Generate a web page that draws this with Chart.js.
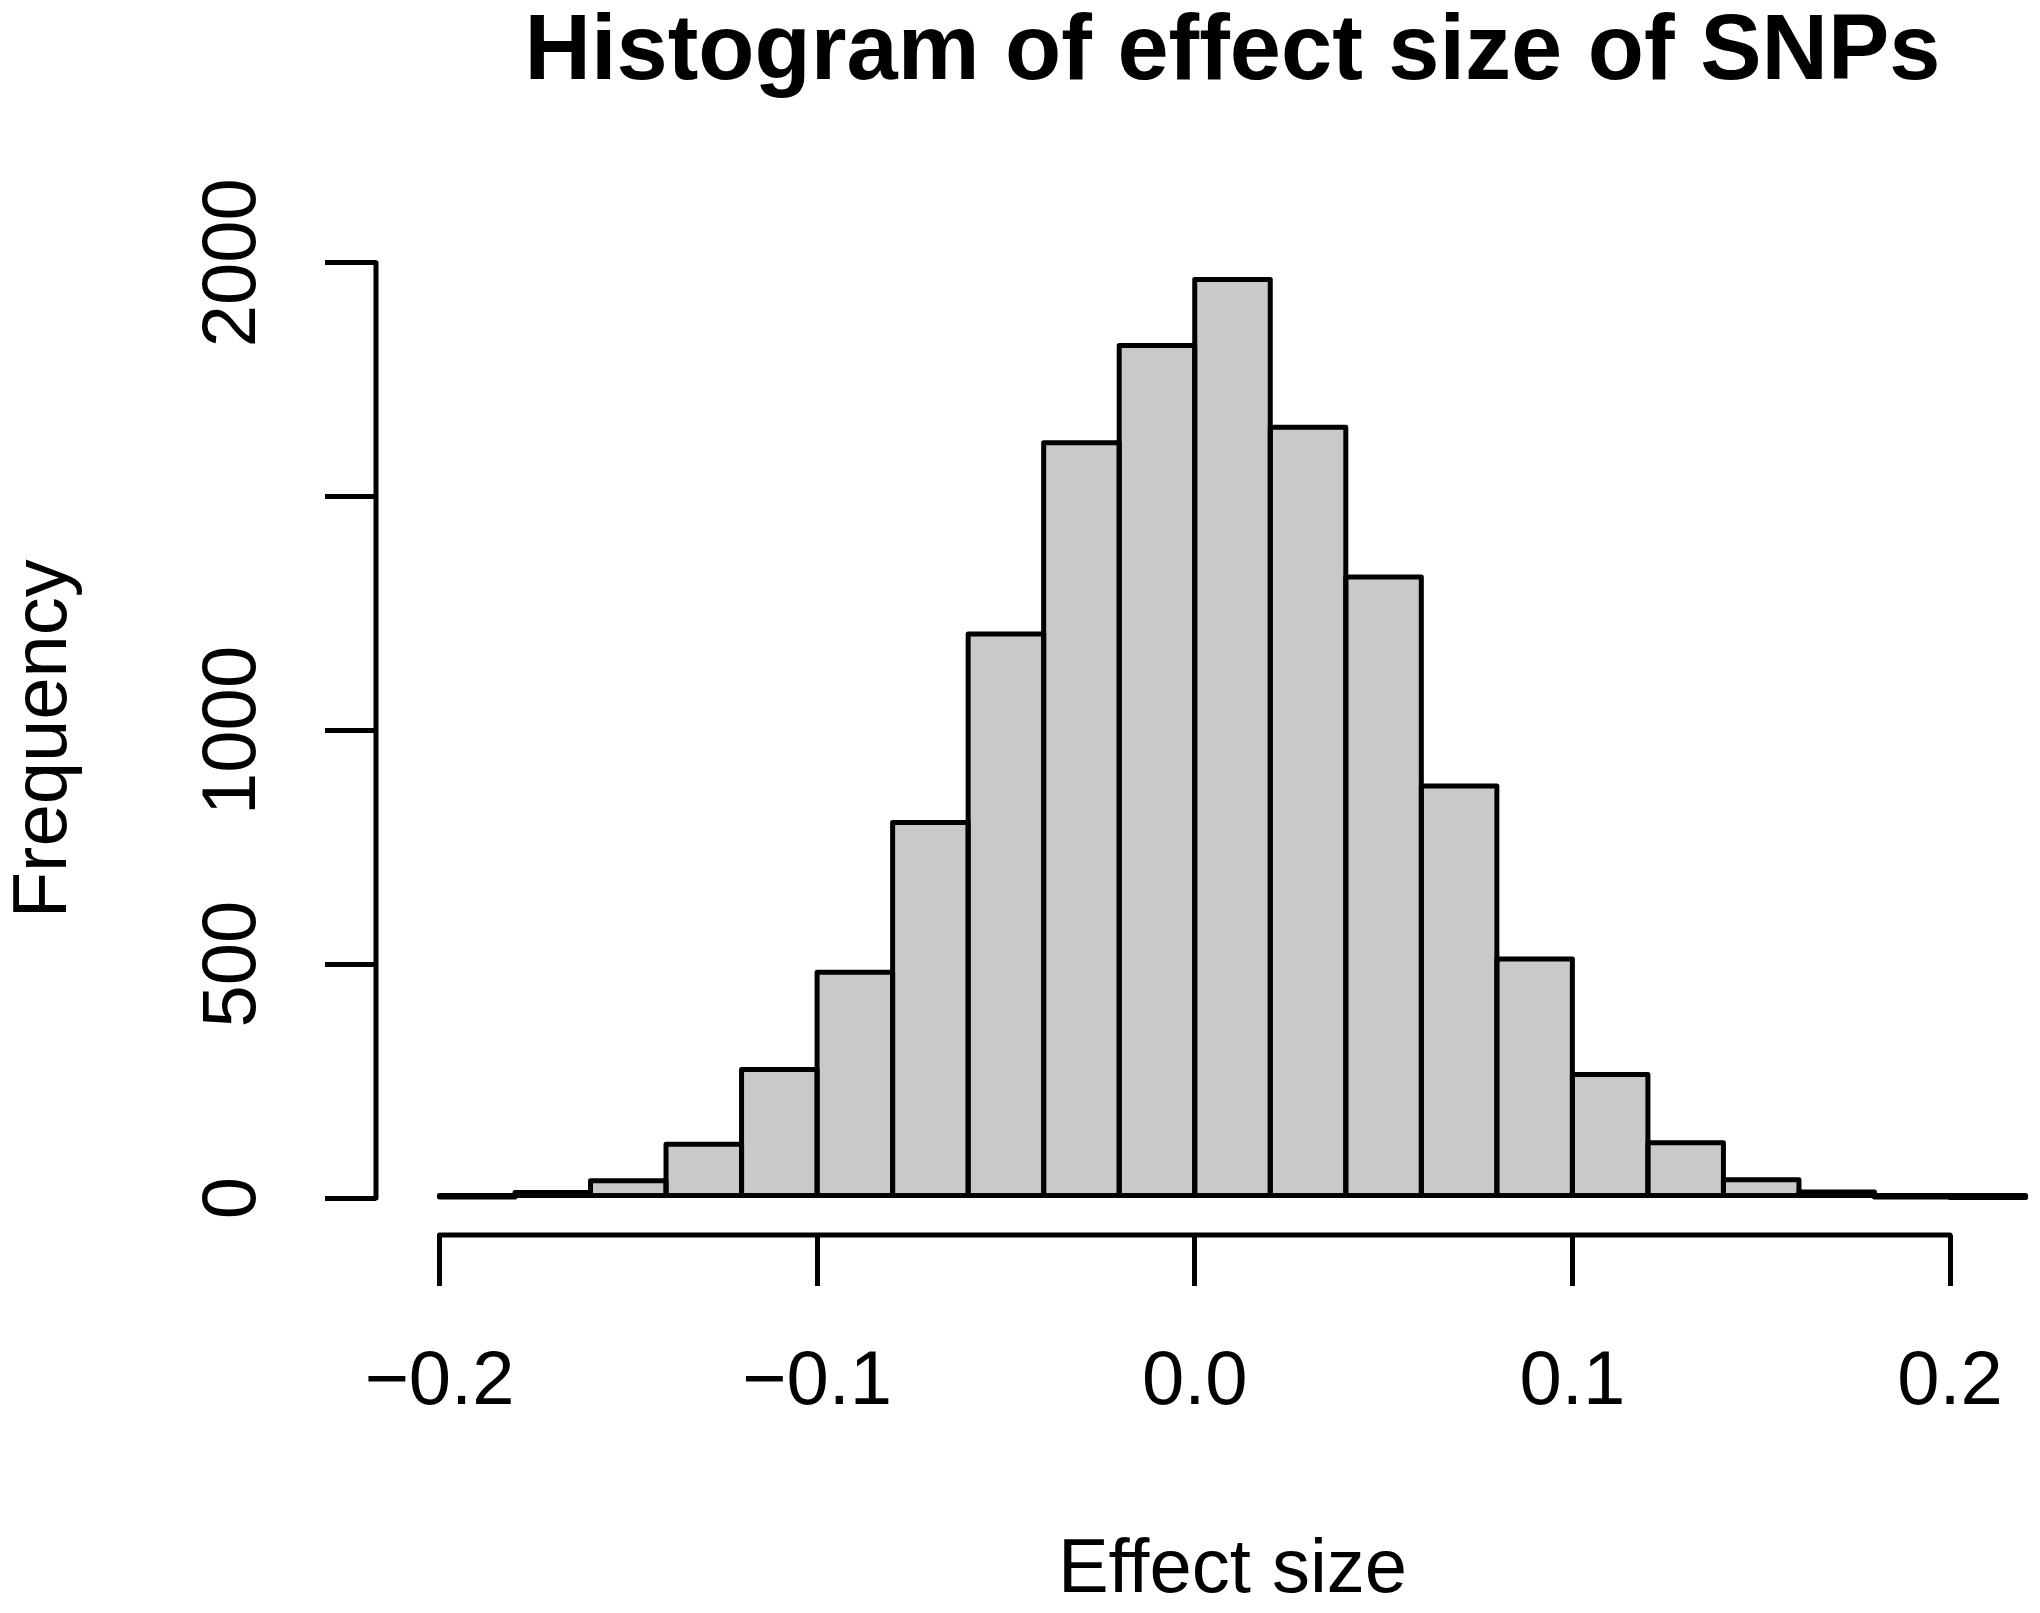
<!DOCTYPE html>
<html><head><meta charset="utf-8">
<script src="https://cdn.jsdelivr.net/npm/chart.js@4"></script>
<style>
html,body{margin:0;padding:0;background:#fff;overflow:hidden;width:2040px;height:1613px;}
canvas{display:block;}
</style></head>
<body>
<canvas id="c" width="2089" height="1613"></canvas>
<script>
// ---- data ----
const binCenters = [-0.19,-0.17,-0.15,-0.13,-0.11,-0.09,-0.07,-0.05,-0.03,-0.01,0.01,0.03,0.05,0.07,0.09,0.11,0.13,0.15,0.17,0.19,0.21];
const counts     = [2,12,37,115,275,483,803,1206,1615,1823,1964,1648,1328,881,511,264,118,39,13,2,1];
const xTickValues = [-0.2,-0.1,0,0.1,0.2];
const xTickLabels = ['\u22120.2','\u22120.1','0.0','0.1','0.2'];
const yTickValues = [0,500,1000,1500,2000];
const yTickLabels = ['0','500','1000','','2000'];
const titleText = 'Histogram of effect size of SNPs';
const xTitle = 'Effect size';
const yTitle = 'Frequency';

const FAMILY = "'Liberation Sans', Arial, Helvetica, sans-serif";

const rStyle = {
  id: 'rStyle',
  afterDatasetsDraw(chart) {
    const ctx = chart.ctx;
    const meta = chart.getDatasetMeta(0);
    ctx.save();
    ctx.strokeStyle = '#000';
    ctx.lineWidth = 5;
    ctx.lineJoin = 'round';
    meta.data.forEach(el => {
      const p = el.getProps(['x','y','base','width'], true);
      ctx.strokeRect(p.x - p.width/2, p.y, p.width, p.base - p.y);
    });
    const xs = chart.scales.x, ys = chart.scales.y, ca = chart.chartArea;
    ctx.lineCap = 'round';
    ctx.beginPath();
    ctx.moveTo(xs.getPixelForValue(xTickValues[0]), ca.bottom);
    ctx.lineTo(xs.getPixelForValue(xTickValues[xTickValues.length-1]), ca.bottom);
    ctx.moveTo(ca.left, ys.getPixelForValue(yTickValues[0]));
    ctx.lineTo(ca.left, ys.getPixelForValue(yTickValues[yTickValues.length-1]));
    ctx.stroke();
    ctx.restore();
  }
};

new Chart(document.getElementById('c'), {
  type: 'bar',
  data: {
    datasets: [{
      data: binCenters.map((x, i) => ({x: x, y: counts[i]})),
      backgroundColor: '#c9c9c9',
      borderWidth: 0,
      inflateAmount: 0,
      barPercentage: 1,
      categoryPercentage: 1
    }]
  },
  options: {
    responsive: false,
    devicePixelRatio: 1,
    animation: false,
    layout: { padding: 0 },
    plugins: {
      legend: { display: false },
      tooltip: { enabled: false },
      title: {
        display: true,
        text: titleText,
        fullSize: false,
        color: '#000',
        font: { family: FAMILY, size: 92, weight: 'bold', lineHeight: 1 },
        padding: { top: 8, bottom: 142.6 }
      }
    },
    scales: {
      x: {
        type: 'linear',
        min: -0.2168,
        max: 0.2368,
        bounds: 'data',
        offset: false,
        afterBuildTicks: s => { s.ticks = xTickValues.map(v => ({value: v})); },
        afterFit: s => { s.height = 378; },
        ticks: {
          autoSkip: false,
          maxRotation: 0,
          color: '#000',
          padding: 59,
          font: { family: FAMILY, size: 76, lineHeight: 1 },
          callback: (v, i) => xTickLabels[i]
        },
        grid: { offset: false, drawOnChartArea: false, drawTicks: true, tickLength: 51, lineWidth: 5, color: '#000' },
        border: { display: false },
        title: {
          display: true, text: xTitle, color: '#000',
          font: { family: FAMILY, size: 76, lineHeight: 1 },
          padding: { top: 0, bottom: 4 }
        }
      },
      y: {
        type: 'linear',
        min: -79,
        max: 2043,
        bounds: 'data',
        afterBuildTicks: s => { s.ticks = yTickValues.map(v => ({value: v})); },
        afterFit: s => { s.width = 376; },
        ticks: {
          autoSkip: false,
          minRotation: 90,
          maxRotation: 90,
          crossAlign: 'center',
          color: '#000',
          padding: 6,
          font: { family: FAMILY, size: 76, lineHeight: 1 },
          callback: (v, i) => yTickLabels[i]
        },
        grid: { drawOnChartArea: false, drawTicks: true, tickLength: 51, lineWidth: 5, color: '#000' },
        border: { display: false },
        title: {
          display: true, text: yTitle, color: '#000',
          font: { family: FAMILY, size: 76, lineHeight: 1 },
          padding: { top: 7, bottom: 0 }
        }
      }
    }
  },
  plugins: [rStyle]
});
</script>
</body></html>
